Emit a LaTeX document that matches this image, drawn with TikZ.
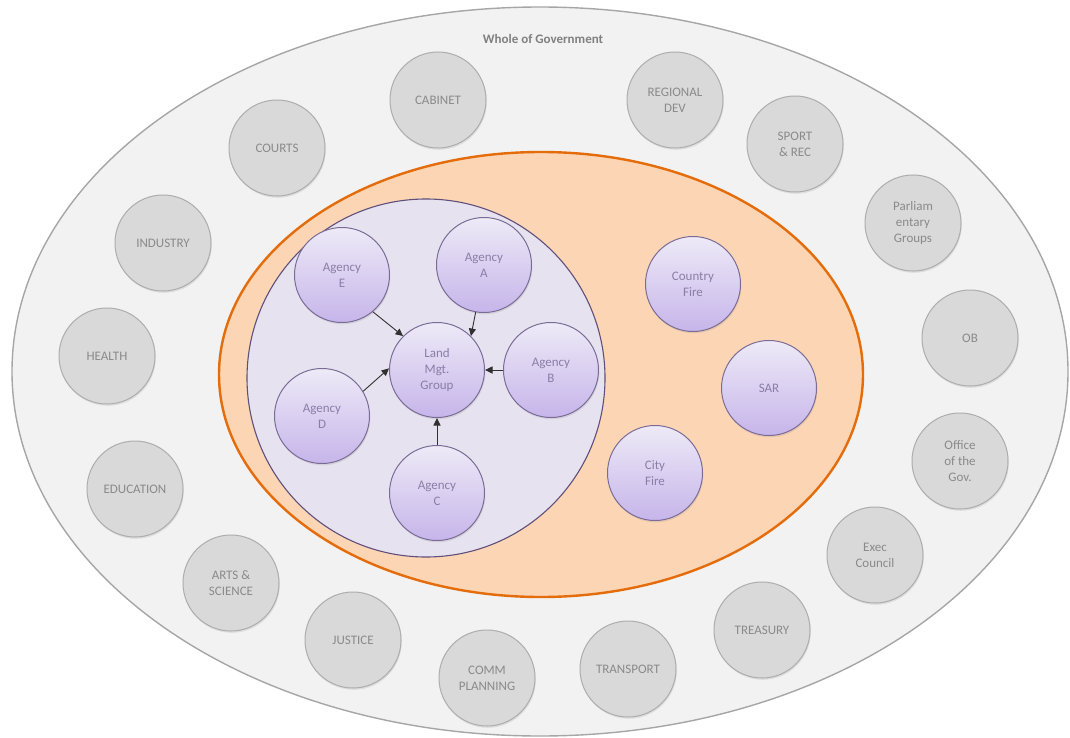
\documentclass[tikz,border=0pt]{standalone}
\usepackage{fontspec}
\setmainfont{Carlito}
\usetikzlibrary{shapes.geometric,shadows,arrows.meta}

\definecolor{wogfill}{HTML}{F2F2F2}
\definecolor{wogline}{HTML}{A6A6A6}
\definecolor{wogtext}{HTML}{808080}
\definecolor{govfill}{HTML}{D9D9D9}
\definecolor{govline}{HTML}{ADADAD}
\definecolor{govtext}{HTML}{8A8A8A}
\definecolor{opsfill}{HTML}{FCD5B5}
\definecolor{opsline}{HTML}{E46C0A}
\definecolor{zonefill}{HTML}{E7E2EF}
\definecolor{zoneline}{HTML}{5F4F7A}
\definecolor{agtop}{HTML}{EEEAF7}
\definecolor{agbot}{HTML}{C6B5EA}
\definecolor{agline}{HTML}{7A6C96}
\definecolor{agtext}{HTML}{8A7EA6}
\definecolor{arrowcol}{HTML}{303030}

\begin{document}
\begin{tikzpicture}[x=1pt,y=-1pt,
  txt/.style={font=\fontsize{13}{16}\selectfont, align=center},
  shade/.style={drop shadow={opacity=0.18, shadow xshift=0.8pt, shadow yshift=-1.8pt}},
  whole/.style={ellipse, inner sep=0, minimum width=1056pt, minimum height=729pt,
    fill=wogfill, draw=wogline, line width=1.4pt},
  wogtitle/.style={font=\fontsize{13}{16}\selectfont\bfseries, text=wogtext},
  opszone/.style={ellipse, inner sep=0, minimum width=644pt, minimum height=445pt,
    fill=opsfill, draw=opsline, line width=2.4pt},
  lmgzone/.style={circle, inner sep=0, minimum size=358pt,
    fill=zonefill, draw=zoneline, line width=1.1pt},
  govt/.style={circle, inner sep=0, minimum size=96pt, txt, shade,
    fill=govfill, draw=govline, line width=1pt, text=govtext},
  agency/.style={circle, inner sep=0, minimum size=95pt, txt, shade,
    top color=agtop, bottom color=agbot, draw=agline, line width=1pt, text=agtext},
  arr/.style={draw=arrowcol, line width=0.9pt, -{Triangle[length=7.5pt,width=7pt]}}
]
\useasboundingbox (0,0) rectangle (1070,738);

% nested areas
\node[whole] (wog) at (540,371.5) {};
\node[wogtitle] (title) at (543,39) {Whole of Government};
\node[opszone] (ops) at (541,374.5) {};
\node[lmgzone] (zone) at (426,378) {};

% portfolios around the outer ring
\node[govt] (cabinet)  at (438,100) {CABINET};
\node[govt] (regional) at (675,100) {REGIONAL\\DEV};
\node[govt] (sport)    at (795,144) {SPORT\\\& REC};
\node[govt] (parl)     at (913,223) {Parliam\\entary\\Groups};
\node[govt] (ob)       at (970,338) {OB};
\node[govt] (gov)      at (960,461) {Office\\of the\\Gov.};
\node[govt] (exec)     at (875,555) {Exec\\Council};
\node[govt] (treasury) at (762,630) {TREASURY};
\node[govt] (transport)at (628,669) {TRANSPORT};
\node[govt] (comm)     at (487,678) {COMM\\PLANNING};
\node[govt] (justice)  at (353,640) {JUSTICE};
\node[govt] (arts)     at (231,583) {ARTS \&\\SCIENCE};
\node[govt] (education)at (135,489) {EDUCATION};
\node[govt] (health)   at (107,356) {HEALTH};
\node[govt] (industry) at (163,243) {INDUSTRY};
\node[govt] (courts)   at (277,148) {COURTS};

% emergency services
\node[agency] (country) at (693,284) {Country\\Fire};
\node[agency] (sar)     at (769,388) {SAR};
\node[agency] (city)    at (655,473) {City\\Fire};

% land management group and its agencies
\node[agency] (lmg) at (437,370) {Land\\Mgt.\\Group};
\node[agency] (agA) at (484,265) {Agency\\A};
\node[agency] (agB) at (551,370) {Agency\\B};
\node[agency] (agC) at (437,493) {Agency\\C};
\node[agency] (agD) at (322,416) {Agency\\D};
\node[agency] (agE) at (342,275) {Agency\\E};

\draw[arr] (agE.-50)  -- (lmg.135);
\draw[arr] (agA.-100) -- (lmg.45);
\draw[arr] (agB.west) -- (lmg.east);
\draw[arr] (agC.north) -- (lmg.south);
\draw[arr] (agD.31)   -- (lmg.178);
\end{tikzpicture}
\end{document}
